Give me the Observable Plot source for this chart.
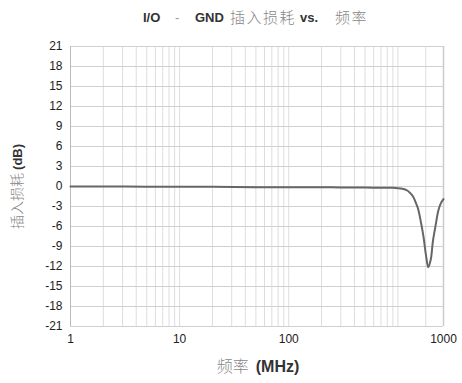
<!DOCTYPE html>
<html>
<head>
<meta charset="utf-8">
<script src="https://cdn.jsdelivr.net/npm/d3@7"></script>
<script src="https://cdn.jsdelivr.net/npm/@observablehq/plot@0.6"></script>
<style>
  body { margin: 0; background: #fff; width: 462px; height: 383px; overflow: hidden; font-family: "Liberation Sans", Arial, sans-serif; }
  #title { position: relative; height: 34px; white-space: nowrap; }
  #title span { position: absolute; top: 9px; line-height: 18px; }
  #title .b { color: #333; font-weight: bold; font-size: 13px; }
  #title .d { color: #999; font-size: 13px; }
  #title .c { color: #888; font-family: "Noto Sans CJK SC", sans-serif; font-weight: 300; font-size: 15px; letter-spacing: 1.5px; top: 8px; }
  #chart svg { display: block; }
</style>
</head>
<body>
<div id="title"><span class="b" style="left:143px">I/O</span><span class="d" style="left:175px">-</span><span class="b" style="left:195px">GND</span><span class="c" style="left:230px">插入损耗</span><span class="b" style="left:300px">vs.</span><span class="c" style="left:335px">频率</span></div>
<div id="chart"></div>
<script>
// Insertion loss curve (frequency in MHz on the picture's log axis, loss in dB)
const freq = [1, 2, 5, 10, 20, 50, 100, 200, 300, 500, 700, 900, 1000, 1100, 1218, 1300, 1377, 1450, 1530, 1620, 1720, 1810, 1900, 2000, 2100, 2220, 2350, 2480, 2620];
const loss = [0, 0, -0.02, -0.05, -0.05, -0.1, -0.1, -0.1, -0.15, -0.15, -0.2, -0.2, -0.25, -0.35, -0.6, -1.0, -1.5, -2.3, -3.3, -5.2, -7.6, -10.3, -12.1, -11, -8.1, -5.8, -3.6, -2.5, -1.9];

// Axis ticks
const yTicks = [21, 18, 15, 12, 9, 6, 3, 0, -3, -6, -9, -12, -15, -18, -21];
const xTickValues = [1, 10, 100, 2620];
const xTickLabels = ["1", "10", "100", "1000"];
const xGrid = [2, 3, 4, 5, 6, 7, 8, 9, 10, 20, 30, 40, 50, 60, 70, 80, 90, 100, 200, 300, 400, 500, 600, 700, 800, 900, 1000, 1800];
const xDomain = [1, 2620];
const yDomain = [-21, 21];

const data = freq.map((f, i) => ({f, v: loss[i]}));

const plot = Plot.plot({
  width: 462,
  height: 349,
  marginLeft: 70,
  marginRight: 19,
  marginTop: 12,
  marginBottom: 57,
  style: {fontFamily: "Liberation Sans, Arial, sans-serif", fontSize: "12px", color: "#222", background: "#fff"},
  x: {type: "log", domain: xDomain, ticks: xTickValues, tickFormat: d => xTickLabels[xTickValues.indexOf(d)], tickSize: 0, tickPadding: 8, label: null},
  y: {domain: yDomain, ticks: yTicks, tickFormat: d => String(d), tickSize: 0, tickPadding: 8, label: null},
  marks: [
    Plot.ruleX(xGrid, {stroke: "#ddd", strokeWidth: 1}),
    Plot.ruleY(yTicks, {stroke: "#d0d0d0", strokeWidth: 1}),
    Plot.ruleX([xDomain[0]], {stroke: "#bbb", strokeWidth: 1}),
    Plot.ruleX([xDomain[1]], {stroke: "#ccc", strokeWidth: 1.5}),
    Plot.line(data, {x: "f", y: "v", stroke: "#666", strokeWidth: 2, curve: "catmull-rom"}),
    Plot.text(["YLABEL"], {frameAnchor: "left", textAnchor: "middle", dx: -53, rotate: -90, fill: "#888", fontSize: 14}),
    Plot.text(["XLABEL"], {frameAnchor: "bottom", textAnchor: "middle", dx: 1, dy: 45, fill: "#777", fontSize: 16})
  ]
});
document.getElementById("chart").appendChild(plot);

// Mixed-style axis labels (CJK light gray, latin darker)
function styleLabel(key, parts, latinSize) {
  d3.select(plot).selectAll("text").filter(function() { return this.textContent === key; }).each(function() {
    const t = d3.select(this);
    t.text(null);
    for (const [txt, cls] of parts) {
      const s = t.append("tspan").text(txt);
      if (cls === "c") s.attr("fill", "#888").style("font-family", "'Noto Sans CJK SC', sans-serif").style("font-weight", 300);
      else s.attr("fill", "#333").style("font-weight", "bold").style("font-size", latinSize);
    }
  });
}
styleLabel("YLABEL", [["插入损耗 ", "c"], ["(dB)", "b"]], "13px");
styleLabel("XLABEL", [["频率 \u00a0", "c"], ["(MHz)", "b"]], "16px");
</script>
</body>
</html>
